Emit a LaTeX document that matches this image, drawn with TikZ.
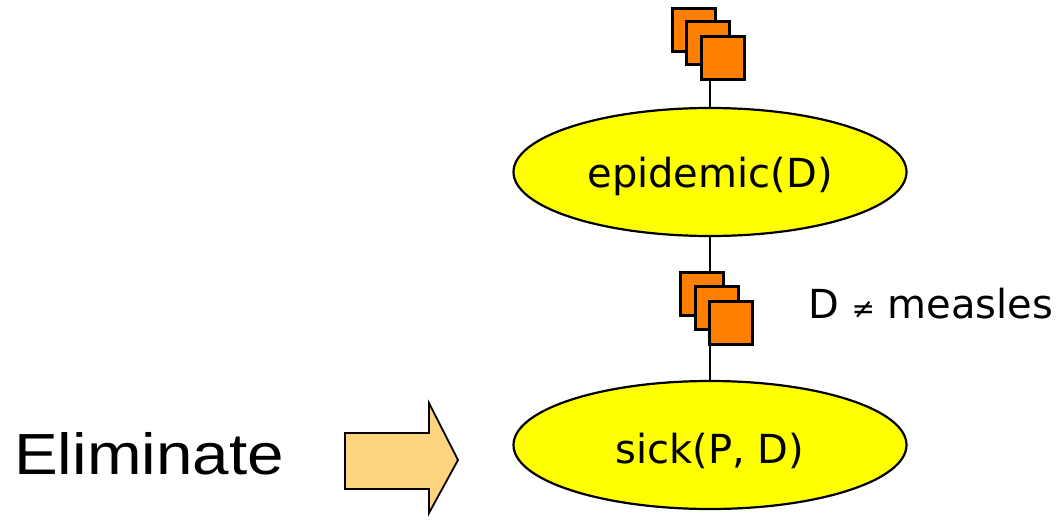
\documentclass[tikz,border=0pt]{standalone}
\usepackage{fontspec}
\setmainfont{DejaVu Sans}
\newfontfamily\arialike{Liberation Sans}
\usetikzlibrary{shapes.geometric}
\definecolor{ellfill}{HTML}{FFFF00}
\definecolor{boxfill}{HTML}{FF8000}
\definecolor{arrfill}{HTML}{FFD47F}
\begin{document}
\begin{tikzpicture}[x=1pt,y=-1pt,
  goal/.style={ellipse,draw=black,line width=2.2pt,fill=ellfill,
    minimum width=393pt,minimum height=128pt,inner sep=0pt,
    font=\fontsize{40}{48}\selectfont},
  tok/.style={rectangle,draw=black,line width=2.6pt,fill=boxfill,
    minimum size=43pt,inner sep=0pt},
  wire/.style={draw=black,line width=1.6pt}]
\useasboundingbox (0,0) rectangle (1062,519);

% goal nodes (text baseline set below the centre)
\node[goal] (epi) at (710,172) {\raisebox{-15pt}[0pt][0pt]{epidemic(D)}};
\node[goal] (sick) at (710,445) {\raisebox{-18pt}[0pt][0pt]{sick(P, D)}};

% wire between the two goals (drawn under the token stack)
\draw[wire] (epi.south) -- (sick.north);

% token stack above epidemic(D)
\node[tok] (t1) at (694,30) {};
\node[tok] (t2) at (708,43) {};
\node[tok] (t3) at (723,58) {};
\coordinate (t3foot) at (epi.north |- t3.south);
\draw[wire] (t3foot) -- (epi.north);

% token stack on the wire
\node[tok] (m1) at (702,294) {};
\node[tok] (m2) at (717,308) {};
\node[tok] (m3) at (731,323) {};

% constraint label
\node[anchor=base west,inner sep=0pt,font=\fontsize{40}{48}\selectfont] (cons) at (808,318)
  {D {\fontsize{28}{32}\selectfont ≠} measles};

% action label
\node[anchor=base west,inner sep=0pt,font=\arialike\fontsize{58}{68}\selectfont] (elim) at (14,474)
  {\scalebox{1.13}[1]{Eliminate}};

% block arrow pointing at sick(P, D)
\draw[draw=black,line width=1.8pt,fill=arrfill,line join=miter]
  (345,433) -- (429,433) -- (429,403) -- (458,460) -- (429,513)
  -- (429,489) -- (345,489) -- cycle;
\end{tikzpicture}
\end{document}
